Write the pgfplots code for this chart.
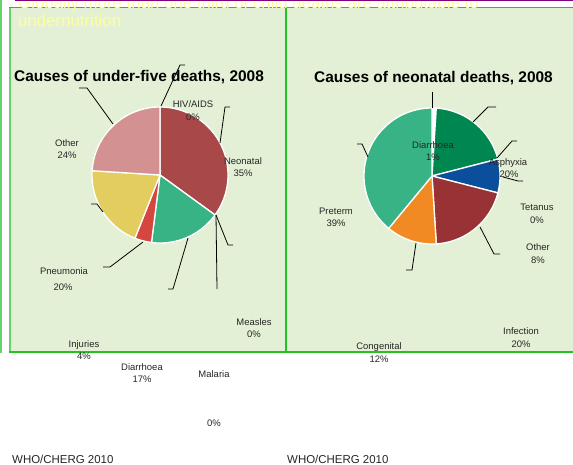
\documentclass[border=0pt]{standalone}
\usepackage{pgfplots}
\pgfplotsset{compat=1.18}
\usepackage{fontspec}
\setmainfont{Liberation Sans}
\definecolor{panel}{HTML}{E4F0D5}
\definecolor{brdr}{HTML}{22C322}
\definecolor{brdrl}{HTML}{66D466}
\definecolor{purp}{HTML}{800080}
\definecolor{hdr}{HTML}{FFFF99}
\definecolor{neon}{HTML}{A84848}
\definecolor{diar}{HTML}{38B386}
\definecolor{inj}{HTML}{D4463E}
\definecolor{pneu}{HTML}{E3CD5E}
\definecolor{oth}{HTML}{D39191}
\definecolor{asph}{HTML}{00874F}
\definecolor{othb}{HTML}{0B4E9B}
\definecolor{infe}{HTML}{983235}
\definecolor{cong}{HTML}{F28A24}
\definecolor{pret}{HTML}{38B386}
% slice: cx, cy, cumulative start %, cumulative end %, colour
\newcommand{\slice}[5]{%
  \pgfmathsetmacro\aA{90-3.6*#4}%
  \pgfmathsetmacro\aB{90-3.6*#3}%
  \edef\temp{\noexpand\addplot[fill=#5, draw=white, line width=1.3bp, domain=\aA:\aB, samples=60] ({#1+68*cos(x)},{#2-68*sin(x)}) -- (axis cs:#1,#2) -- cycle;}%
  \temp
}
\newcommand{\lab}{\fontsize{9.5}{11}\selectfont}
\begin{document}
\begin{tikzpicture}[x=1bp,y=1bp]
\useasboundingbox (0,0) rectangle (573,465);
\begin{axis}[at={(0,0)}, anchor=south west, width=573bp, height=465bp,
  scale only axis, hide axis, xmin=0, xmax=573, ymin=0, ymax=465,
  y dir=reverse, clip=false]
% panels
\fill[panel] (axis cs:10,7) rectangle (axis cs:573,352);
\draw[brdrl, line width=2bp] (axis cs:1,0) -- (axis cs:1,353);
\draw[brdrl, line width=2bp] (axis cs:10,7) -- (axis cs:10,352);
\draw[brdr, line width=1.2bp] (axis cs:9,7.3) -- (axis cs:573,7.3);
\draw[brdr, line width=1.5bp] (axis cs:9,352) -- (axis cs:573,352);
\draw[brdr, line width=1.5bp] (axis cs:286,7) -- (axis cs:286,352);
% header
\node[anchor=base west, text=hdr, font=\fontsize{16.9}{18}\selectfont, inner sep=0] at (axis cs:18,9) {Globally more than one third of child deaths are attributable to};
\node[anchor=base west, text=hdr, font=\fontsize{16.9}{18}\selectfont, inner sep=0] at (axis cs:18,27) {undernutrition};
\draw[purp, line width=1.6bp] (axis cs:15,0.6) -- (axis cs:573,0.6);
% titles
\node[anchor=base west, font=\fontsize{15.5}{17}\selectfont\bfseries, inner sep=0] at (axis cs:14,82) {Causes of under-five deaths, 2008};
\node[anchor=base west, font=\fontsize{15.5}{17}\selectfont\bfseries, inner sep=0] at (axis cs:314,83) {Causes of neonatal deaths, 2008};
% left pie: Neonatal 35, Malaria 0, Measles 0, Diarrhoea 17, Injuries 4, Pneumonia 20, Other 24, HIV/AIDS 0
\slice{160}{175}{0}{35}{neon}
\slice{160}{175}{35}{52}{diar}
\slice{160}{175}{52}{56}{inj}
\slice{160}{175}{56}{76}{pneu}
\slice{160}{175}{76}{100}{oth}
% right pie: Diarrhoea 1, Asphyxia 20, Tetanus 0, Other 8, Infection 20, Congenital 12, Preterm 39
\slice{432}{176}{0}{1}{white}
\slice{432}{176}{1}{21}{asph}
\slice{432}{176}{21}{29}{othb}
\slice{432}{176}{29}{49}{infe}
\slice{432}{176}{49}{61}{cong}
\slice{432}{176}{61}{100}{pret}
% leader lines left
\draw[black, line width=0.8bp] (axis cs:161,106) -- (axis cs:180,65) -- (axis cs:185,65);
\draw[black, line width=0.8bp] (axis cs:220,143) -- (axis cs:225,107) -- (axis cs:230,107);
\draw[black, line width=0.8bp] (axis cs:216,215) -- (axis cs:228,245) -- (axis cs:233,245);
\draw[black, line width=0.8bp] (axis cs:216,215) -- (axis cs:217,289);
\draw[black, line width=0.8bp] (axis cs:188,238) -- (axis cs:173,289) -- (axis cs:168,289);
\draw[black, line width=0.8bp] (axis cs:143,242) -- (axis cs:110,267) -- (axis cs:103,267);
\draw[black, line width=0.8bp] (axis cs:103,212) -- (axis cs:97,204) -- (axis cs:91,204);
\draw[black, line width=0.8bp] (axis cs:113,124) -- (axis cs:87,88) -- (axis cs:79,88);
% leader lines right
\draw[black, line width=0.8bp] (axis cs:432,92) -- (axis cs:432,108);
\draw[black, line width=0.8bp] (axis cs:473,122) -- (axis cs:488,107) -- (axis cs:496,107);
\draw[black, line width=0.8bp] (axis cs:497,158) -- (axis cs:512,141) -- (axis cs:517,141);
\draw[black, line width=0.8bp] (axis cs:503,177) -- (axis cs:518,181) -- (axis cs:523,181);
\draw[black, line width=0.8bp] (axis cs:480,227) -- (axis cs:494,254) -- (axis cs:500,254);
\draw[black, line width=0.8bp] (axis cs:416,243) -- (axis cs:412,270) -- (axis cs:406,270);
\draw[black, line width=0.8bp] (axis cs:368,157) -- (axis cs:362,144) -- (axis cs:357,144);
% labels
\begin{scope}[every node/.style={font=\lab, anchor=base, inner sep=0, text=black!85}]
\node at (axis cs:193,107.5) {HIV/AIDS};
\node at (axis cs:193,120.5) {0\%};
\node at (axis cs:243,164.5) {Neonatal};
\node at (axis cs:243,176.5) {35\%};
\node at (axis cs:67,146.5) {Other};
\node at (axis cs:67,158.5) {24\%};
\node at (axis cs:64,274.5) {Pneumonia};
\node at (axis cs:63,290.8) {20\%};
\node at (axis cs:254,325.5) {Measles};
\node at (axis cs:254,337.5) {0\%};
\node at (axis cs:84,347.5) {Injuries};
\node at (axis cs:84,359.5) {4\%};
\node at (axis cs:142,370.5) {Diarrhoea};
\node at (axis cs:142,382.5) {17\%};
\node at (axis cs:214,377.5) {Malaria};
\node at (axis cs:214,426.5) {0\%};
\node at (axis cs:433,148.5) {Diarrhoea};
\node at (axis cs:433,160.5) {1\%};
\node at (axis cs:508,165.5) {Asphyxia};
\node at (axis cs:509,177.5) {20\%};
\node at (axis cs:537,211) {Tetanus};
\node at (axis cs:537,223.5) {0\%};
\node at (axis cs:538,251) {Other};
\node at (axis cs:538,264) {8\%};
\node at (axis cs:336,214.5) {Preterm};
\node at (axis cs:336,226.8) {39\%};
\node at (axis cs:521,335) {Infection};
\node at (axis cs:521,347) {20\%};
\node at (axis cs:379,349.3) {Congenital};
\node at (axis cs:379,362) {12\%};
\end{scope}
\node[anchor=base west, inner sep=0, font=\fontsize{11.5}{13}\selectfont, text=black!85] at (axis cs:12,463.5) {WHO/CHERG 2010};
\node[anchor=base west, inner sep=0, font=\fontsize{11.5}{13}\selectfont, text=black!85] at (axis cs:287,463.5) {WHO/CHERG 2010};
\end{axis}
\end{tikzpicture}
\end{document}
